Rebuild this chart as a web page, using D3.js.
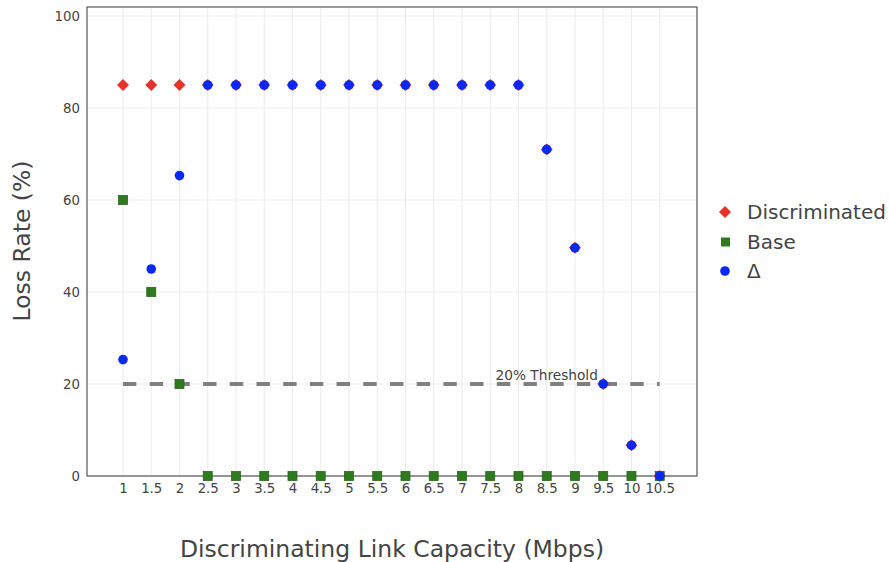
<!DOCTYPE html>
<html><head><meta charset="utf-8">
<script src="https://cdn.jsdelivr.net/npm/d3@7/dist/d3.min.js"></script>
<style>body{margin:0;background:#fff;font-family:"DejaVu Sans",sans-serif;}</style>
</head><body><svg id="c" width="889" height="562"></svg>
<script>
const capacities = [1,1.5,2,2.5,3,3.5,4,4.5,5,5.5,6,6.5,7,7.5,8,8.5,9,9.5,10,10.5];
const discriminated = [85,85,85,85,85,85,85,85,85,85,85,85,85,85,85,71,49.6,20,6.7,0];
const base = [60,40,20,0,0,0,0,0,0,0,0,0,0,0,0,0,0,0,0,0];
const delta = [25.3,45,65.3,85,85,85,85,85,85,85,85,85,85,85,85,71,49.6,20,6.7,0];
const yTicks = [0,20,40,60,80,100];
const xTickLabels = ["1","1.5","2","2.5","3","3.5","4","4.5","5","5.5","6","6.5","7","7.5","8","8.5","9","9.5","10","10.5"];
const threshold = 20;
const seriesNames = ["Discriminated","Base","Δ"];
const colors = {red:"#e8322a", green:"#2f7a1f", blue:"#0a28f2"};

const svg = d3.select("#c");
const L=87, R=697, T=7, B=476;
const x = d3.scaleLinear().domain([0.363,11.16]).range([L,R]);
const y = d3.scaleLinear().domain([0,100]).range([B,16]);

// grid
const g = svg.append("g");
g.selectAll(".vx").data(capacities).enter().append("line")
 .attr("x1",d=>x(d)).attr("x2",d=>x(d)).attr("y1",T).attr("y2",B)
 .attr("stroke","#ebebeb").attr("stroke-width",1);
g.selectAll(".hy").data(yTicks).enter().append("line")
 .attr("x1",L).attr("x2",R).attr("y1",d=>y(d)).attr("y2",d=>y(d))
 .attr("stroke","#ebebeb").attr("stroke-width",1);

// frame
svg.append("rect").attr("x",L).attr("y",T).attr("width",R-L).attr("height",B-T)
 .attr("fill","none").attr("stroke","#555").attr("stroke-width",1.2);

// axes
const xAxis = d3.axisBottom(x).tickValues(capacities).tickFormat((d,i)=>xTickLabels[i]).tickSize(0).tickPadding(8);
const ax = svg.append("g").attr("transform",`translate(0,${B})`).call(xAxis);
ax.select(".domain").remove();
ax.selectAll("text").attr("font-size",13.3).attr("fill","#444").attr("font-family","DejaVu Sans");
const yAxis = d3.axisLeft(y).tickValues(yTicks).tickSize(0).tickPadding(7);
const ay = svg.append("g").attr("transform",`translate(${L},0)`).call(yAxis);
ay.select(".domain").remove();
ay.selectAll("text").attr("font-size",13.3).attr("fill","#444").attr("font-family","DejaVu Sans");

// threshold
svg.append("line").attr("x1",x(capacities[0])).attr("x2",x(capacities[capacities.length-1]))
 .attr("y1",y(threshold)).attr("y2",y(threshold))
 .attr("stroke","#808080").attr("stroke-width",4).attr("stroke-dasharray","13.4,13.3");
svg.append("text").attr("x",x(8.5)).attr("y",y(threshold)-4).attr("text-anchor","middle")
 .attr("font-size",13.7).attr("fill","#444").text("20% Threshold");

function diamondPath(s){return `M0,${-s}L${s},0L0,${s}L${-s},0Z`;}

// Discriminated
svg.append("g").selectAll("path").data(capacities).enter().append("path")
 .attr("d",diamondPath(6)).attr("transform",(d,i)=>`translate(${x(d)},${y(discriminated[i])})`)
 .attr("fill",colors.red);
// Base
svg.append("g").selectAll("rect").data(capacities).enter().append("rect")
 .attr("x",d=>x(d)-4.5).attr("y",(d,i)=>y(base[i])-4.5).attr("width",9).attr("height",9)
 .attr("fill",colors.green).attr("stroke","#26661a").attr("stroke-width",0.8);
// Delta
svg.append("g").selectAll("circle").data(capacities).enter().append("circle")
 .attr("cx",d=>x(d)).attr("cy",(d,i)=>y(delta[i])).attr("r",4.8)
 .attr("fill",colors.blue);

// legend
const leg = svg.append("g");
const ly = [212,242,271];
leg.append("path").attr("d",diamondPath(6)).attr("transform",`translate(725,${ly[0]})`).attr("fill",colors.red);
leg.append("rect").attr("x",721).attr("y",ly[1]-4.5).attr("width",9).attr("height",9).attr("fill",colors.green);
leg.append("circle").attr("cx",725).attr("cy",ly[2]).attr("r",4.8).attr("fill",colors.blue);
seriesNames.forEach((n,i)=>{
 leg.append("text").attr("x",747).attr("y",ly[i]).attr("dy","0.35em").attr("font-size",20).attr("fill","#444").text(n);
});

// axis titles
svg.append("text").attr("x",392).attr("y",557).attr("text-anchor","middle").attr("font-size",23.5).attr("fill","#444")
 .text("Discriminating Link Capacity (Mbps)");
svg.append("text").attr("transform","translate(30,241) rotate(-90)").attr("text-anchor","middle").attr("font-size",23.5).attr("fill","#444")
 .text("Loss Rate (%)");
</script></body></html>
